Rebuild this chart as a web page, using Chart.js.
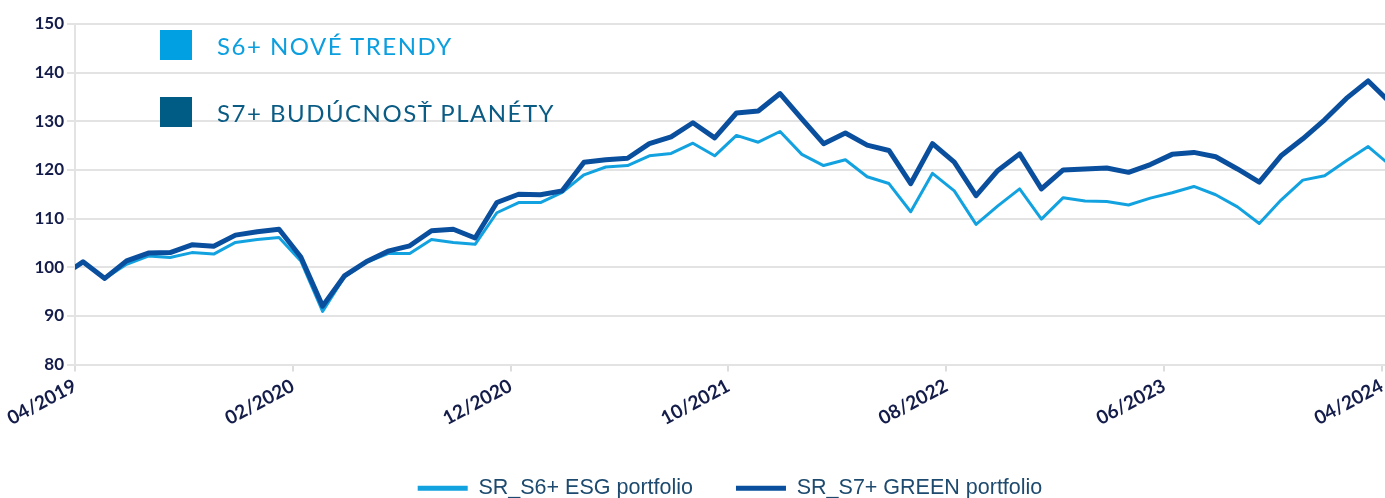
<!DOCTYPE html>
<html>
<head>
<meta charset="utf-8">
<script src="https://cdn.jsdelivr.net/npm/chart.js@4.4.1/dist/chart.umd.min.js"></script>
<style>
  html, body { margin: 0; padding: 0; background: #fff; overflow: hidden; }
  #wrap { position: relative; width: 1385px; height: 498px; overflow: hidden; }
  #box { position: absolute; left: 0; top: 0; width: 1385px; height: 509px; }
  .key { position: absolute; left: 160px; display: flex; align-items: center;
         font-family: Lato, "Noto Sans", sans-serif; font-size: 24px; letter-spacing: 1.5px; }
  .key .sq { display: inline-block; width: 32px; height: 30px; margin-right: 25px; }
</style>
</head>
<body>
<div id="wrap">
  <div id="box"><canvas id="chartOne"></canvas></div>
  <div class="key" style="top:30px; color:#0b9fdf;"><span class="sq" style="background:#00a0e3;"></span>S6+ NOVÉ TRENDY</div>
  <div class="key" style="top:97px; color:#0b5c85;"><span class="sq" style="background:#005c85;"></span>S7+ BUDÚCNOSŤ PLANÉTY</div>
</div>
<script>
"use strict";

// fund start plus monthly observations
const startDate = "2019-04-01";
const dates = [startDate];
for (let i = 0; i < 61; i++) {
  const m = 3 + i;
  const y = 2019 + Math.floor(m / 12);
  dates.push(y + "-" + String((m % 12) + 1).padStart(2, "0") + "-12");
}

const esg = [100, 101.0, 97.7, 100.6, 102.3, 102.0, 103.0, 102.7, 105.1, 105.7, 106.1, 101.3,
  90.9, 98.0, 101.0, 102.8, 102.8, 105.7, 105.1, 104.7, 111.2, 113.3, 113.3, 115.4,
  119.0, 120.6, 120.9, 122.9, 123.4, 125.5, 122.9, 127.1, 125.7, 127.9, 123.2, 120.9,
  122.1, 118.6, 117.2, 111.4, 119.3, 115.7, 108.8, 112.6, 116.1, 109.9, 114.3, 113.6,
  113.5, 112.8, 114.2, 115.3, 116.6, 114.9, 112.4, 109.0, 113.8, 117.9, 118.8, 121.9,
  124.8, 121.0];

const green = [100, 101.1, 97.7, 101.3, 102.9, 103.0, 104.6, 104.3, 106.6, 107.3, 107.8, 102.1,
  92.0, 98.2, 101.1, 103.3, 104.4, 107.5, 107.8, 106.0, 113.3, 115.0, 114.9, 115.7,
  121.6, 122.1, 122.4, 125.4, 126.8, 129.7, 126.6, 131.7, 132.1, 135.7, 130.5, 125.4,
  127.6, 125.1, 124.0, 117.2, 125.4, 121.6, 114.7, 119.9, 123.3, 116.1, 120.0, 120.2,
  120.4, 119.5, 121.1, 123.2, 123.6, 122.7, 120.2, 117.5, 122.9, 126.4, 130.3, 134.7,
  138.3, 133.9];

const seriesNames = ["SR_S6+ ESG portfolio", "SR_S7+ GREEN portfolio"];
const yTicks = [80, 90, 100, 110, 120, 130, 140, 150];

// months elapsed since April 2019
function monthPos(d) {
  const [y, m, day] = d.split("-").map(Number);
  return (y - 2019) * 12 + (m - 4) + (day - 1) / 30;
}

function toPoints(values) {
  return values.map((v, i) => ({ x: monthPos(dates[i]), y: v }));
}

function monthLabel(v) {
  const m = 3 + Math.round(v);
  return String((m % 12) + 1).padStart(2, "0") + "/" + (2019 + Math.floor(m / 12));
}

const tickFont = { family: "Lato, 'Noto Sans', sans-serif", size: 19, weight: "bold" };
const tickColor = "#141c4a";
const legendColor = "#1d4a6e";

let ctxOne = document.getElementById("chartOne").getContext("2d");
let chartOne = new Chart(ctxOne, {
  type: "line",
  data: {
    datasets: [
      {
        label: seriesNames[0],
        data: toPoints(esg),
        borderColor: "#13a2e0",
        backgroundColor: "#13a2e0",
        borderWidth: 3,
        order: 1,
      },
      {
        label: seriesNames[1],
        data: toPoints(green),
        borderColor: "#0a4f9e",
        backgroundColor: "#0a4f9e",
        borderWidth: 5,
        order: 0,
      },
    ],
  },
  options: {
    responsive: true,
    maintainAspectRatio: false,
    animation: false,
    elements: {
      point: { radius: 0 },
      line: { tension: 0, borderJoinStyle: "round", borderCapStyle: "round" },
    },
    layout: { padding: { top: 24 } },
    scales: {
      x: {
        type: "linear",
        min: 0,
        max: 60.14,
        ticks: {
          stepSize: 10,
          includeBounds: false,
          autoSkip: false,
          minRotation: 28,
          maxRotation: 28,
          padding: 3,
          font: tickFont,
          color: tickColor,
          callback: (v) => monthLabel(v),
        },
        grid: { drawOnChartArea: false, color: "#dddddd", lineWidth: 2, tickLength: 7 },
        border: { color: "#e3e3e3", width: 2 },
        afterFit: (s) => {
          s.paddingRight = 0;
          s.height = 70;
        },
      },
      y: {
        min: 80,
        max: 150,
        afterBuildTicks: (s) => {
          s.ticks = yTicks.map((v) => ({ value: v }));
        },
        ticks: { font: { ...tickFont, size: 17 }, color: tickColor, padding: 3 },
        grid: { color: "#e3e3e3", lineWidth: 2, tickLength: 8 },
        border: { color: "#e3e3e3", width: 2 },
        afterFit: (s) => {
          s.width = 75;
          s.paddingTop = 0;
          s.paddingBottom = 0;
        },
      },
    },
    plugins: {
      tooltip: { enabled: false },
      legend: {
        position: "bottom",
        fullSize: false,
        labels: {
          usePointStyle: true,
          pointStyleWidth: 50,
          padding: 43,
          color: legendColor,
          font: { family: "'Liberation Sans', Arial, sans-serif", size: 21.5 },
          generateLabels: (chart) =>
            chart.data.datasets.map((ds, i) => ({
              text: ds.label,
              datasetIndex: i,
              pointStyle: "line",
              strokeStyle: ds.borderColor,
              fillStyle: ds.borderColor,
              lineWidth: 5,
              lineCap: "butt",
              fontColor: legendColor,
            })),
        },
      },
    },
  },
});
</script>
</body>
</html>
